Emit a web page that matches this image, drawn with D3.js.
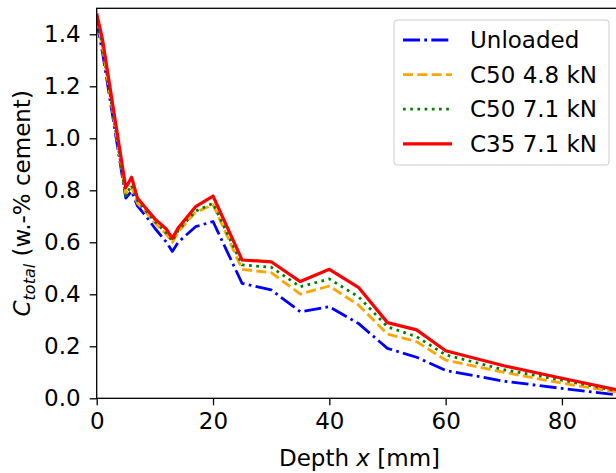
<!DOCTYPE html>
<html>
<head>
<meta charset="utf-8">
<script src="https://cdn.jsdelivr.net/npm/d3@7"></script>
<style>
    body { margin: 0; background: #fff; }
    svg { display: block; overflow: hidden; }
    text { font-family: "DejaVu Sans", sans-serif; fill: #000; }
</style>
</head>
<body>
<div id="chart"></div>
<script>
// depth values (mm)
const depths = [0, 1, 5, 6, 7, 8.5, 10, 12, 13, 14, 17, 20, 25, 30, 35, 40, 45, 50, 55, 60, 70, 80, 90];

// total chloride content per series
const unloaded = [1.45, 1.33, 0.77, 0.797, 0.74, 0.70, 0.654, 0.60, 0.565, 0.60, 0.66, 0.68, 0.442, 0.417, 0.333, 0.352, 0.288, 0.192, 0.158, 0.107, 0.066, 0.038, 0.012];
const c50_48 = [1.46, 1.35, 0.785, 0.815, 0.75, 0.715, 0.675, 0.63, 0.60, 0.64, 0.715, 0.745, 0.496, 0.483, 0.401, 0.432, 0.359, 0.247, 0.218, 0.147, 0.10, 0.058, 0.022];
const c50_71 = [1.47, 1.36, 0.78, 0.82, 0.76, 0.72, 0.68, 0.635, 0.605, 0.645, 0.72, 0.75, 0.513, 0.504, 0.429, 0.459, 0.391, 0.275, 0.237, 0.167, 0.11, 0.07, 0.026];
const c35_71 = [1.48, 1.38, 0.81, 0.85, 0.77, 0.73, 0.69, 0.65, 0.615, 0.655, 0.737, 0.778, 0.532, 0.525, 0.449, 0.496, 0.427, 0.291, 0.263, 0.183, 0.125, 0.077, 0.03];

const seriesNames = ["Unloaded", "C50 4.8 kN", "C50 7.1 kN", "C35 7.1 kN"];
const seriesValues = [unloaded, c50_48, c50_71, c35_71];

const xTicks = [0, 20, 40, 60, 80];
const yTicks = [0.0, 0.2, 0.4, 0.6, 0.8, 1.0, 1.2, 1.4];

class ProfileVis {
    constructor(parentElement) {
        this.parentElement = parentElement;
        this.initVis();
    }

    initVis() {
        let vis = this;

        vis.margin = {top: 8.3, left: 96.7};
        vis.width = 523.4;   // plot runs past the right edge of the figure
        vis.height = 390;
        vis.fontSize = "23px";

        vis.svg = d3.select("#" + vis.parentElement).append("svg")
            .attr("width", 616)
            .attr("height", 473)
            .append("g")
            .attr("transform", `translate(${vis.margin.left},${vis.margin.top})`);

        vis.x = d3.scaleLinear().domain([0, 90]).range([0, vis.width]);
        vis.y = d3.scaleLinear().domain([0, 1.5]).range([vis.height, 0]);

        // line styles, matplotlib-like
        vis.styles = [
            {color: "#0000ff", dash: "17,4.3,2.7,4.3", width: 2.8},
            {color: "#ffa500", dash: "10,4.3", width: 2.8},
            {color: "#008000", dash: "2.7,4.5", width: 2.8},
            {color: "#ff0000", dash: null, width: 3.2}
        ];

        vis.updateVis();
    }

    updateVis() {
        let vis = this;

        vis.svg.append("clipPath").attr("id", "clip")
            .append("rect").attr("width", vis.width).attr("height", vis.height);

        let line = d3.line()
            .x((d, i) => vis.x(depths[i]))
            .y(d => vis.y(d));

        vis.svg.append("g").attr("clip-path", "url(#clip)")
            .selectAll("path")
            .data(seriesValues)
            .enter()
            .append("path")
            .attr("d", d => line(d))
            .attr("fill", "none")
            .attr("stroke", (d, i) => vis.styles[i].color)
            .attr("stroke-width", (d, i) => vis.styles[i].width)
            .attr("stroke-dasharray", (d, i) => vis.styles[i].dash)
            .attr("stroke-linejoin", "round");

        // axes
        let xAxis = d3.axisBottom(vis.x).tickValues(xTicks).tickSize(7).tickPadding(7).tickFormat(d3.format("d"));
        let yAxis = d3.axisLeft(vis.y).tickValues(yTicks).tickSize(7).tickPadding(9).tickFormat(d3.format(".1f"));

        let gx = vis.svg.append("g")
            .attr("transform", `translate(0,${vis.height})`)
            .call(xAxis);
        let gy = vis.svg.append("g").call(yAxis);

        [gx, gy].forEach(g => {
            g.select(".domain").remove();
            g.selectAll("line").attr("stroke", "#000").attr("stroke-width", 1.3);
            g.selectAll("text").style("font-size", vis.fontSize).style("font-family", "DejaVu Sans");
        });
        gx.selectAll("text").attr("dy", "0.73em");

        // spines
        vis.svg.append("rect")
            .attr("width", vis.width)
            .attr("height", vis.height)
            .attr("fill", "none")
            .attr("stroke", "#000")
            .attr("stroke-width", 1.3);

        // axis labels
        let xl = vis.svg.append("text")
            .attr("x", 359.5 - vis.margin.left)
            .attr("y", 466 - vis.margin.top)
            .attr("text-anchor", "middle")
            .style("font-size", vis.fontSize);
        xl.append("tspan").text("Depth ");
        xl.append("tspan").style("font-style", "italic").text("x");
        xl.append("tspan").text(" [mm]");

        let yl = vis.svg.append("text")
            .attr("transform", `translate(${30 - vis.margin.left},${vis.height / 2}) rotate(-90)`)
            .attr("text-anchor", "middle")
            .style("font-size", vis.fontSize);
        yl.append("tspan").style("font-style", "italic").text("C");
        yl.append("tspan").style("font-style", "italic").style("font-size", "16px")
            .attr("dy", "5").text("total");
        yl.append("tspan").attr("dy", "-5").text(" (w.-% cement)");

        // legend
        let legend = vis.svg.append("g")
            .attr("transform", `translate(${394 - vis.margin.left},${20 - vis.margin.top})`);

        legend.append("rect")
            .attr("width", 215)
            .attr("height", 145)
            .attr("rx", 3)
            .attr("fill", "#fff")
            .attr("fill-opacity", 0.8)
            .attr("stroke", "#cccccc")
            .attr("stroke-width", 1);

        let rows = legend.selectAll(".row")
            .data(seriesNames)
            .enter()
            .append("g")
            .attr("class", "row")
            .attr("transform", (d, i) => `translate(0,${20 + i * 34.6})`);

        rows.append("line")
            .attr("x1", 9).attr("x2", 58)
            .attr("stroke", (d, i) => vis.styles[i].color)
            .attr("stroke-width", (d, i) => vis.styles[i].width)
            .attr("stroke-dasharray", (d, i) => vis.styles[i].dash);

        rows.append("text")
            .attr("x", 76)
            .attr("dy", "0.36em")
            .style("font-size", vis.fontSize)
            .text(d => d);
    }
}

new ProfileVis("chart");
</script>
</body>
</html>
